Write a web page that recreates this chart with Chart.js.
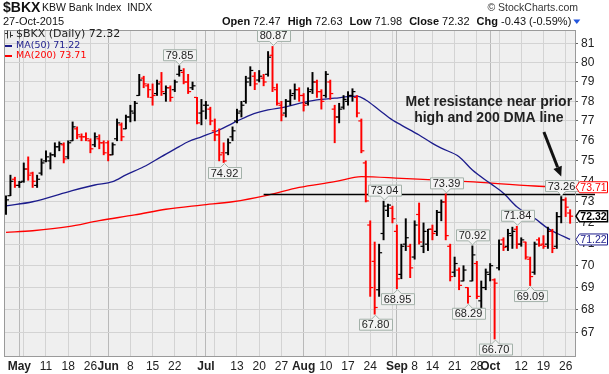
<!DOCTYPE html>
<html>
<head>
<meta charset="utf-8">
<script src="https://cdn.jsdelivr.net/npm/chart.js@4.4.0/dist/chart.umd.min.js"></script>
<style>
  html, body { margin: 0; padding: 0; background: #fff; overflow: hidden; }
  #wrap { width: 609px; height: 374px; }
</style>
</head>
<body>
<div id="wrap"><canvas id="chart" width="609" height="374"></canvas></div>
<script>
// daily bars, 28-Apr-2015 .. 27-Oct-2015 (bar index = trading day)
const opens = [
  72.6, 73.3, 74.1, 73.8, 74.0, 74.6, 74.4, 73.8, 74.4, 75.0,
  75.0, 75.3, 75.7, 75.8, 75.2, 76.0, 76.6, 76.2, 76.2, 76.0,
  75.8, 76.1, 75.9, 75.9, 75.3, 76.1, 76.8, 76.6, 77.2, 77.4,
  78.3, 79.2, 78.8, 78.2, 78.4, 79.0, 78.4, 78.7, 78.6, 79.4,
  79.5, 79.0, 78.7, 78.2, 77.4, 77.8, 77.6, 76.5, 76.3, 75.4,
  75.4, 76.2, 77.0, 77.5, 78.0, 79.2, 79.3, 79.1, 79.2, 79.4,
  80.4, 78.6, 77.8, 77.4, 78.0, 78.4, 78.6, 78.3, 77.9, 78.6,
  79.0, 78.5, 78.3, 79.0, 77.6, 77.2, 77.7, 78.0, 78.3, 78.2,
  77.0, 74.9, 71.9, 70.2, 68.9, 71.5, 72.6, 72.7, 71.6, 69.6,
  71.0, 70.9, 70.4, 72.4, 70.9, 71.0, 71.7, 71.6, 72.5, 73.0,
  70.9, 69.7, 69.8, 69.3, 69.0, 69.3, 70.1, 68.4, 69.0, 69.6,
  69.35, 69.9, 71.2, 70.9, 71.4, 71.7, 71.0, 71.1, 70.3, 69.7,
  71.2, 71.0, 71.0, 71.6, 70.9, 72.3, 73.1, 72.47
];
const highs = [
  73.3, 74.3, 74.2, 74.0, 74.9, 75.2, 74.45, 74.3, 75.1, 75.5,
  75.4, 75.9, 75.95, 75.9, 76.0, 76.95, 76.7, 76.35, 76.4, 76.1,
  76.4, 76.3, 76.0, 76.0, 75.9, 77.1, 76.9, 77.3, 77.8, 78.0,
  79.4, 79.3, 78.9, 78.9, 79.1, 79.5, 78.8, 78.8, 79.1, 79.85,
  79.7, 79.4, 79.0, 78.2, 78.1, 78.0, 77.7, 77.1, 76.6, 75.9,
  76.1, 76.7, 77.6, 78.0, 79.3, 79.8, 79.5, 79.6, 79.4, 80.6,
  80.87, 78.9, 78.0, 78.1, 78.6, 78.9, 78.7, 78.4, 78.7, 79.5,
  79.1, 78.6, 79.55, 79.1, 77.8, 77.9, 78.3, 78.5, 78.65, 78.3,
  77.1, 75.0, 72.1, 71.1, 71.0, 73.04, 72.9, 72.8, 71.9, 71.0,
  72.2, 71.0, 72.1, 72.95, 72.0, 71.7, 71.9, 72.6, 73.1, 73.39,
  71.0, 70.4, 69.9, 70.0, 69.0, 70.92, 70.2, 69.3, 69.85, 70.1,
  69.4, 71.2, 71.3, 71.7, 71.8, 71.84, 71.3, 71.1, 70.4, 71.1,
  71.3, 71.4, 71.8, 71.7, 72.5, 73.26, 73.2, 72.63
];
const lows = [
  72.4, 73.3, 73.7, 73.7, 73.95, 74.05, 73.7, 73.7, 74.3, 74.95,
  74.6, 75.2, 75.5, 74.9, 75.1, 76.0, 76.1, 76.0, 76.0, 75.4,
  75.7, 75.6, 75.3, 75.0, 75.3, 76.0, 76.0, 76.6, 76.95, 77.0,
  78.3, 78.7, 78.2, 77.8, 78.3, 78.3, 78.0, 78.0, 78.5, 79.3,
  78.9, 78.4, 78.6, 76.85, 76.8, 77.1, 76.8, 76.0, 75.0, 74.92,
  75.3, 76.0, 76.9, 77.2, 77.9, 78.8, 78.6, 79.0, 78.8, 79.3,
  78.5, 77.8, 77.0, 77.2, 77.8, 78.1, 78.0, 77.5, 77.8, 78.4,
  78.2, 77.6, 78.2, 78.1, 75.9, 76.9, 77.6, 77.8, 78.0, 77.2,
  75.4, 73.0, 68.6, 67.8, 68.6, 71.2, 72.3, 72.0, 68.95, 69.4,
  70.7, 69.45, 70.3, 71.0, 70.6, 70.7, 71.2, 71.4, 72.1, 71.2,
  69.3, 69.5, 68.9, 69.3, 68.29, 69.3, 68.5, 68.0, 68.9, 69.3,
  66.7, 69.8, 70.7, 70.7, 70.8, 70.8, 70.9, 70.3, 69.09, 69.6,
  70.9, 70.8, 70.8, 70.6, 70.8, 72.0, 72.3, 71.98
];
const closes = [
  73.1, 74.0, 73.8, 73.95, 74.6, 74.3, 74.0, 74.1, 74.9, 75.2,
  75.3, 75.7, 75.85, 75.1, 75.9, 76.7, 76.3, 76.2, 76.1, 75.6,
  76.2, 75.9, 75.4, 75.3, 75.8, 76.9, 76.2, 77.2, 77.5, 77.9,
  79.1, 78.9, 78.6, 78.3, 78.9, 78.5, 78.7, 78.2, 79.0, 79.6,
  79.0, 78.5, 78.8, 76.9, 77.5, 77.8, 77.0, 76.3, 75.3, 75.0,
  75.9, 76.5, 77.4, 77.8, 79.0, 79.6, 78.9, 79.3, 79.0, 80.3,
  78.7, 77.9, 77.3, 78.0, 78.3, 78.6, 78.3, 77.8, 78.5, 79.0,
  78.5, 78.0, 79.4, 78.4, 77.2, 77.6, 78.1, 78.3, 78.5, 77.4,
  75.5, 73.05, 69.0, 68.1, 70.6, 72.8, 72.85, 72.2, 69.4, 70.9,
  71.3, 69.9, 71.9, 71.1, 71.6, 71.7, 71.5, 72.5, 73.0, 71.4,
  69.5, 70.1, 69.1, 69.8, 68.6, 70.5, 68.6, 69.0, 69.7, 70.0,
  69.2, 71.0, 70.85, 71.5, 71.6, 71.0, 71.2, 70.4, 69.5, 71.0,
  70.95, 70.9, 71.6, 70.8, 72.3, 73.1, 72.75, 72.32
];

// moving averages at a few bars
const ma50Idx = [0, 6, 14, 20, 24, 27, 31, 35, 39, 41, 44, 48, 51, 55, 59, 63, 66, 70, 74, 77, 79, 81, 84, 87, 89, 93, 96, 98, 102, 105, 109, 112, 115, 119, 122, 124, 127];
const ma50Val = [72.81, 73.01, 73.49, 73.82, 73.98, 74.31, 74.71, 75.21, 75.71, 75.95, 76.2, 76.54, 76.88, 77.3, 77.56, 77.72, 77.9, 78.07, 78.16, 78.24, 78.27, 78.07, 77.56, 77.05, 76.79, 76.29, 75.87, 75.63, 75.21, 74.55, 73.9, 73.42, 72.77, 72.22, 71.74, 71.51, 71.22];
const ma200Idx = [0, 6, 14, 21, 29, 36, 44, 51, 59, 66, 74, 80, 89, 104, 119, 127];
const ma200Val = [71.55, 71.63, 71.82, 72.11, 72.38, 72.65, 72.85, 73.01, 73.33, 73.7, 73.98, 74.23, 74.14, 73.98, 73.77, 73.71];

// resistance line
const resistIdx = [58, 132.6];
const resistVal = 73.36;

// value callouts: bar index and which end of the bar
const calloutIdx = [39, 60, 49, 85, 83, 88, 99, 104, 105, 110, 115, 118, 125];
const calloutSide = ['hi', 'hi', 'lo', 'hi', 'lo', 'lo', 'hi', 'lo', 'hi', 'lo', 'hi', 'lo', 'hi'];

// axes
const yTicks = [67, 68, 69, 70, 71, 72, 73, 74, 75, 76, 77, 78, 79, 80, 81];
const xTickIdx = [3, 9, 14, 19, 23, 28, 33, 38, 45, 52, 57, 62, 67, 72, 77, 82, 88, 92, 96, 101, 106, 109, 116, 121, 126];
const xTickText = ['May', '11', '18', '26', 'Jun', '8', '15', '22', 'Jul', '13', '20', '27', 'Aug', '10', '17', '24', 'Sep', '8', '14', '21', '28', 'Oct', '12', '19', '26'];
const monthIdx = [3, 23, 45, 67, 88, 109];
const extraGridIdx = [4, 43, 47, 87, 111];

// note
const noteLines = ['Met resistance near prior', 'high and 200 DMA line'];
const noteIdx = 108.7;
const noteVals = [77.98, 77.13];
const arrowFrom = [121.1, 76.44];
const arrowTo = [125, 74.23];

// header quote
const quoteLabels = ['Open', 'High', 'Low', 'Close', 'Chg'];
const quoteValues = ['72.47', '72.63', '71.98', '72.32', '-0.43 (-0.59%)'];

const RED = '#ff0000';
const BLUE = '#1c1c8c';

Chart.defaults.font.family = '"Liberation Sans", Arial, sans-serif';

const barColor = closes.map((c, i) => (i === 0 || c >= closes[i - 1]) ? '#000000' : RED);
const gridIdx = xTickIdx.concat(extraGridIdx).sort((a, b) => a - b);
const tickLabel = {};
xTickIdx.forEach((v, i) => { tickLabel[v] = xTickText[i]; });

function drawCallout(ctx, x, y, text, above) {
    ctx.font = '11px "Liberation Sans"';
    const w = Math.round(ctx.measureText(text).width) + 5;
    const h = 11, n = 4;
    x = Math.round(x) + 0.5;
    const left = Math.round(x - w / 2) + 0.5;
    ctx.beginPath();
    let boxTop;
    if (above) {
        const tip = y - 1, base = tip - n;
        boxTop = base - h;
        ctx.moveTo(left, boxTop); ctx.lineTo(left + w, boxTop); ctx.lineTo(left + w, base);
        ctx.lineTo(x + n, base); ctx.lineTo(x, tip); ctx.lineTo(x - n, base); ctx.lineTo(left, base);
    } else {
        const tip = y + 1, base = tip + n;
        boxTop = base;
        ctx.moveTo(left, base); ctx.lineTo(x - n, base); ctx.lineTo(x, tip); ctx.lineTo(x + n, base);
        ctx.lineTo(left + w, base); ctx.lineTo(left + w, base + h); ctx.lineTo(left, base + h);
    }
    ctx.closePath();
    ctx.fillStyle = '#f3f3f3';
    ctx.fill();
    ctx.strokeStyle = '#a3b1a9';
    ctx.lineWidth = 1;
    ctx.stroke();
    ctx.fillStyle = '#222';
    ctx.textAlign = 'center';
    ctx.textBaseline = 'middle';
    ctx.fillText(text, x, boxTop + h / 2 + 0.5);
}

function drawValueTag(ctx, y, text, color, bold) {
    const x0 = 576, x1 = 579.5, x2 = 607.5;
    ctx.beginPath();
    ctx.moveTo(x0, y); ctx.lineTo(x1, y - 5.5); ctx.lineTo(x2, y - 5.5);
    ctx.lineTo(x2, y + 5.5); ctx.lineTo(x1, y + 5.5); ctx.closePath();
    ctx.fillStyle = '#fff';
    ctx.fill();
    ctx.strokeStyle = color;
    ctx.lineWidth = bold ? 1.5 : 1;
    ctx.stroke();
    ctx.fillStyle = color;
    ctx.font = (bold ? 'bold ' : '') + '10.5px "Liberation Sans"';
    ctx.textAlign = 'center';
    ctx.textBaseline = 'middle';
    ctx.fillText(text, (x1 + x2) / 2, y + 0.5);
}

const decorPlugin = {
    id: 'decor',
    beforeDatasetsDraw(chart) {
        const { ctx, chartArea: a } = chart;
        ctx.save();
        ctx.globalCompositeOperation = 'destination-over';
        ctx.fillStyle = '#efefef';
        ctx.fillRect(a.left, a.top, a.right - a.left, a.bottom - a.top);
        ctx.restore();
    },
    afterDatasetsDraw(chart) {
        const { ctx, chartArea: a } = chart;
        const xs = chart.scales.x, ys = chart.scales.y;
        ctx.save();

        // plot frame
        ctx.strokeStyle = '#9a9a9a';
        ctx.lineWidth = 1;
        ctx.strokeRect(Math.round(a.left) + 0.5, Math.round(a.top) + 0.5, Math.round(a.right - a.left), Math.round(a.bottom - a.top));

        // callouts
        calloutIdx.forEach((i, k) => {
            const above = calloutSide[k] === 'hi';
            const v = above ? highs[i] : lows[i];
            drawCallout(ctx, xs.getPixelForValue(i), ys.getPixelForValue(v), v.toFixed(2), above);
        });

        // note and arrow
        ctx.fillStyle = '#222';
        ctx.font = 'bold 14px "Liberation Sans"';
        ctx.textAlign = 'center';
        ctx.textBaseline = 'middle';
        noteLines.forEach((t, k) => ctx.fillText(t, xs.getPixelForValue(noteIdx), ys.getPixelForValue(noteVals[k])));
        const fx = xs.getPixelForValue(arrowFrom[0]), fy = ys.getPixelForValue(arrowFrom[1]);
        const tx = xs.getPixelForValue(arrowTo[0]), ty = ys.getPixelForValue(arrowTo[1]);
        const ang = Math.atan2(ty - fy, tx - fx);
        const hl = 10, hw = 4.5;
        const bx = tx - hl * Math.cos(ang), by = ty - hl * Math.sin(ang);
        ctx.strokeStyle = '#111';
        ctx.lineWidth = 3;
        ctx.beginPath(); ctx.moveTo(fx, fy); ctx.lineTo(bx, by); ctx.stroke();
        ctx.fillStyle = '#111';
        ctx.beginPath();
        ctx.moveTo(tx, ty);
        ctx.lineTo(bx + hw * Math.sin(ang), by - hw * Math.cos(ang));
        ctx.lineTo(bx - hw * Math.sin(ang), by + hw * Math.cos(ang));
        ctx.closePath(); ctx.fill();

        // value tags on the right axis
        const lastMa200 = ma200Val[ma200Val.length - 1];
        const lastMa50 = ma50Val[ma50Val.length - 1];
        const lastClose = closes[closes.length - 1];
        drawValueTag(ctx, ys.getPixelForValue(lastMa200), lastMa200.toFixed(2), RED, false);
        drawValueTag(ctx, ys.getPixelForValue(lastClose), lastClose.toFixed(2), '#000', true);
        drawValueTag(ctx, ys.getPixelForValue(lastMa50), lastMa50.toFixed(2), BLUE, false);

        // legend inside the plot
        ctx.strokeStyle = '#333';
        ctx.lineWidth = 1;
        ctx.beginPath();
        ctx.moveTo(7.5, 30.5); ctx.lineTo(7.5, 38.5); ctx.moveTo(5, 33.5); ctx.lineTo(7.5, 33.5);
        ctx.moveTo(10.5, 31.5); ctx.lineTo(10.5, 37.5); ctx.moveTo(10.5, 35.5); ctx.lineTo(13, 35.5);
        ctx.stroke();
        ctx.textAlign = 'left';
        ctx.textBaseline = 'middle';
        ctx.font = '11px "DejaVu Sans"';
        ctx.fillStyle = '#222';
        ctx.fillText('$BKX (Daily) ' + lastClose.toFixed(2), 16, 34.5);
        ctx.font = '9.5px "DejaVu Sans"';
        ctx.lineWidth = 2;
        ctx.strokeStyle = BLUE;
        ctx.beginPath(); ctx.moveTo(5, 46); ctx.lineTo(12, 46); ctx.stroke();
        ctx.fillStyle = BLUE;
        ctx.fillText('MA(50) ' + lastMa50.toFixed(2), 16, 46);
        ctx.strokeStyle = RED;
        ctx.beginPath(); ctx.moveTo(5, 56); ctx.lineTo(12, 56); ctx.stroke();
        ctx.fillStyle = RED;
        ctx.fillText('MA(200) ' + lastMa200.toFixed(2), 16, 56);

        // header
        ctx.fillStyle = '#111';
        ctx.font = 'bold 14px "Liberation Sans"';
        ctx.fillText('$BKX', 3, 8);
        ctx.font = '10.5px "Liberation Sans"';
        ctx.fillText('KBW Bank Index  INDX', 42, 8);
        ctx.font = '11px "Liberation Sans"';
        ctx.fillText('27-Oct-2015', 3, 22);
        ctx.fillStyle = '#333';
        ctx.textAlign = 'right';
        ctx.font = '10.5px "Liberation Sans"';
        ctx.fillText('\u00a9 StockCharts.com', 578, 8);
        ctx.textAlign = 'left';
        let px = 222;
        quoteLabels.forEach((lab, k) => {
            ctx.fillStyle = '#111';
            ctx.font = 'bold 11px "Liberation Sans"';
            ctx.fillText(lab, px, 22);
            px += ctx.measureText(lab).width + 3;
            ctx.font = '11px "Liberation Sans"';
            ctx.fillText(quoteValues[k], px, 22);
            px += ctx.measureText(quoteValues[k]).width + 7;
        });
        px -= 5;
        ctx.fillStyle = '#2255dd';
        ctx.beginPath();
        ctx.moveTo(px, 19.5); ctx.lineTo(px + 7, 19.5); ctx.lineTo(px + 3.5, 24); ctx.closePath(); ctx.fill();

        ctx.restore();
    }
};

const ctx = document.getElementById('chart').getContext('2d');
new Chart(ctx, {
    type: 'bar',
    data: {
        datasets: [
            {
                type: 'line',
                label: 'MA200',
                data: ma200Idx.map((x, k) => ({ x: x, y: ma200Val[k] })),
                borderColor: RED,
                borderWidth: 1.3,
                pointRadius: 0,
                cubicInterpolationMode: 'monotone',
                order: 5
            },
            {
                type: 'line',
                label: 'MA50',
                data: ma50Idx.map((x, k) => ({ x: x, y: ma50Val[k] })),
                borderColor: BLUE,
                borderWidth: 1.3,
                pointRadius: 0,
                cubicInterpolationMode: 'monotone',
                order: 4
            },
            {
                type: 'line',
                label: 'resistance',
                data: resistIdx.map(x => ({ x: x, y: resistVal })),
                borderColor: '#000',
                borderWidth: 1.5,
                pointRadius: 0,
                clip: false,
                order: 3
            },
            {
                type: 'bar',
                label: 'range',
                data: highs.map((h, i) => ({ x: i, y: [lows[i], h] })),
                backgroundColor: barColor,
                barThickness: 1.3,
                grouped: false,
                order: 2
            },
            {
                type: 'line',
                label: 'open',
                data: opens.map((o, i) => ({ x: i - 0.34, y: o })),
                showLine: false,
                pointStyle: 'line',
                pointRadius: 1.5,
                pointBorderWidth: 1.2,
                pointBorderColor: barColor,
                pointHoverRadius: 0,
                order: 1
            },
            {
                type: 'line',
                label: 'close',
                data: closes.map((c, i) => ({ x: i + 0.34, y: c })),
                showLine: false,
                pointStyle: 'line',
                pointRadius: 1.5,
                pointBorderWidth: 1.2,
                pointBorderColor: barColor,
                pointHoverRadius: 0,
                order: 1
            }
        ]
    },
    options: {
        responsive: false,
        animation: false,
        devicePixelRatio: 1,
        layout: { padding: { left: 4, top: 30, right: 0, bottom: 0 } },
        plugins: { legend: { display: false }, tooltip: { enabled: false } },
        scales: {
            x: {
                type: 'linear',
                min: -0.45,
                max: 128.1,
                offset: false,
                afterBuildTicks: s => { s.ticks = gridIdx.map(v => ({ value: v })); },
                afterFit: s => { s.height = 18; },
                grid: {
                    offset: false,
                    drawTicks: false,
                    color: c => (c.tick && monthIdx.includes(c.tick.value)) ? '#b9b9b9' : '#d3d3d3'
                },
                border: { display: false },
                ticks: {
                    autoSkip: false,
                    maxRotation: 0,
                    padding: 3,
                    color: '#222',
                    font: c => ({ size: 12, weight: (c.tick && monthIdx.includes(c.tick.value)) ? 'bold' : 'normal' }),
                    callback: v => tickLabel[v] || ''
                }
            },
            y: {
                type: 'logarithmic',
                position: 'right',
                min: 65.96,
                max: 81.75,
                afterBuildTicks: s => { s.ticks = yTicks.map(v => ({ value: v })); },
                afterFit: s => { s.width = 34; },
                grid: { color: '#d3d3d3', tickLength: 3, tickColor: '#666' },
                border: { display: false },
                ticks: {
                    padding: 3,
                    color: '#222',
                    font: { size: 12 },
                    callback: v => String(v)
                }
            }
        }
    },
    plugins: [decorPlugin]
});
</script>
</body>
</html>
